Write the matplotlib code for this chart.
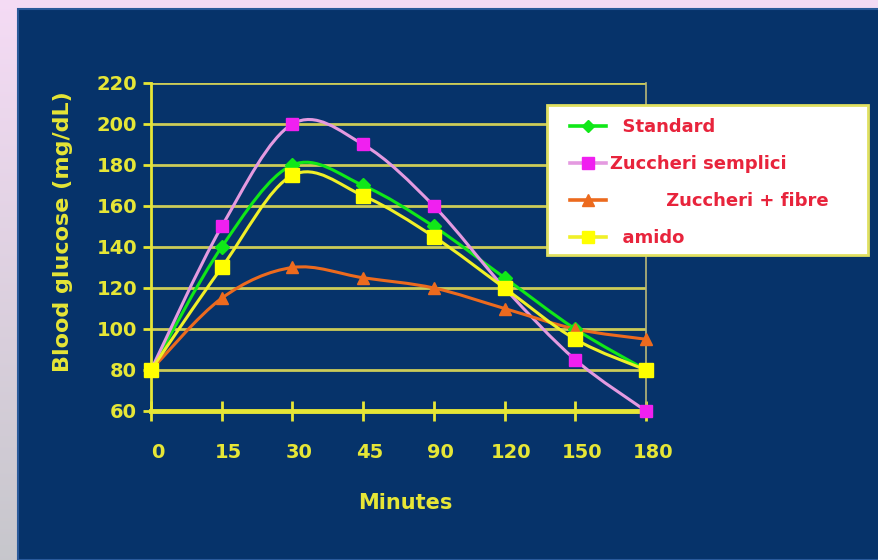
"""Blood glucose response curves (Excel-style chart on dark panel)."""

import matplotlib

matplotlib.use("Agg")

import matplotlib.pyplot as plt
import numpy as np
from matplotlib.lines import Line2D
from matplotlib.patches import PathPatch, Rectangle
from matplotlib.path import Path
from matplotlib.transforms import ScaledTranslation

MINUTES = ["0", "15", "30", "45", "90", "120", "150", "180"]
STANDARD = [80, 140, 180, 170, 150, 125, 100, 80]
ZUCCHERI_SEMPLICI = [80, 150, 200, 190, 160, 120, 85, 60]
ZUCCHERI_FIBRE = [80, 115, 130, 125, 120, 110, 100, 95]
AMIDO = [80, 130, 175, 165, 145, 120, 95, 80]
Y_TICKS = [60, 80, 100, 120, 140, 160, 180, 200, 220]

PANEL = "#06336a"
AXIS_YELLOW = "#e6e636"
GRID_YELLOW = "#cccc58"
LEGEND_RED = "#e8243c"

SERIES = [
    ("Standard", STANDARD, "#10e818", "#10e818", "D", 7),
    ("Zuccheri semplici", ZUCCHERI_SEMPLICI, "#e49ae0", "#f020f0", "s", 9),
    ("Zuccheri + fibre", ZUCCHERI_FIBRE, "#ec6a1e", "#ec6a1e", "^", 9),
    ("amido", AMIDO, "#f0f028", "#ffff00", "s", 10),
]
LEGEND_LABELS = ["  Standard", "Zuccheri semplici", "         Zuccheri + fibre", "  amido"]


def smooth_path(x, y):
    # Catmull-Rom through the points, expressed as cubic Bezier segments
    x = np.asarray(x, dtype=float)
    y = np.asarray(y, dtype=float)
    px = np.concatenate([[x[0]], x, [x[-1]]])
    py = np.concatenate([[y[0]], y, [y[-1]]])
    verts = [(x[0], y[0])]
    codes = [Path.MOVETO]
    for i in range(1, len(px) - 2):
        c1 = (px[i] + (px[i + 1] - px[i - 1]) / 6, py[i] + (py[i + 1] - py[i - 1]) / 6)
        c2 = (px[i + 1] - (px[i + 2] - px[i]) / 6, py[i + 1] - (py[i + 2] - py[i]) / 6)
        verts += [c1, c2, (px[i + 1], py[i + 1])]
        codes += [Path.CURVE4] * 3
    return Path(verts, codes)


def main():
    plt.rcParams["font.family"] = ["DejaVu Sans"]
    plt.rcParams["font.weight"] = "bold"
    fig = plt.figure(figsize=(8.79, 5.60), dpi=100)
    fig.patch.set_facecolor("#ece6ee")

    # gradient border (pink on the left/top) and the dark panel
    bg = fig.add_axes([0, 0, 1, 1], zorder=-5)
    bg.axis("off")
    grad = np.linspace(0, 1, 256)
    img = np.ones((256, 1, 3))
    img[:, 0, 0] = 0.96 - 0.18 * grad
    img[:, 0, 1] = 0.86 - 0.08 * grad
    img[:, 0, 2] = 0.96 - 0.16 * grad
    bg.imshow(img, extent=[0, 1, 0, 1], aspect="auto")
    bg.set_xlim(0, 1)
    bg.set_ylim(0, 1)
    bg.add_patch(Rectangle((18 / 879, 0), 1, (560 - 9) / 560, facecolor=PANEL,
                           edgecolor="#2a5a9a", linewidth=1.5))

    ax = fig.add_axes([151 / 879, 1 - 411 / 560, 495 / 879, 328 / 560])
    ax.set_facecolor("none")
    x = np.arange(len(MINUTES))

    for name, values, line_color, marker_color, marker, size in SERIES:
        ax.add_patch(PathPatch(smooth_path(x, values), facecolor="none",
                               edgecolor=line_color, linewidth=2.2, zorder=3))
        ax.plot(x, values, linestyle="none", marker=marker, markersize=size,
                markerfacecolor=marker_color, markeredgecolor=marker_color,
                zorder=4, clip_on=False)

    ax.set_xlim(0, len(MINUTES) - 1)
    ax.set_ylim(60, 220)
    ax.set_xticks(x)
    ax.set_xticklabels(MINUTES)
    ax.set_yticks(Y_TICKS)
    ax.grid(axis="y", color=GRID_YELLOW, linewidth=2)
    ax.set_axisbelow(True)

    ax.spines["top"].set_visible(False)
    ax.spines["right"].set_color("#b8b878")
    ax.spines["right"].set_linewidth(1.2)
    ax.spines["left"].set_color(AXIS_YELLOW)
    ax.spines["left"].set_linewidth(2)
    ax.spines["bottom"].set_color(AXIS_YELLOW)
    ax.spines["bottom"].set_linewidth(3.5)

    ax.tick_params(axis="x", direction="inout", length=14, width=2, color=AXIS_YELLOW,
                   labelcolor=AXIS_YELLOW, labelsize=14, pad=16)
    ax.tick_params(axis="y", direction="out", length=6, width=2, color=AXIS_YELLOW,
                   labelcolor=AXIS_YELLOW, labelsize=14, pad=4)
    shift = ScaledTranslation(7 / 100, 0, fig.dpi_scale_trans)
    for label in ax.get_xticklabels():
        label.set_transform(label.get_transform() + shift)

    ax.set_xlabel("Minutes", color=AXIS_YELLOW, fontsize=15, fontweight="bold")
    ax.xaxis.label.set_va("center")
    ax.xaxis.set_label_coords(0.513, -0.28)
    ax.set_ylabel("Blood glucose (mg/dL)", color=AXIS_YELLOW, fontsize=16, fontweight="bold")
    ax.yaxis.label.set_va("center")
    ax.yaxis.set_label_coords(-0.178, 0.546)

    # legend: white box drawn separately, entries placed inside it
    fig.add_artist(Rectangle((547 / 879, 1 - 255 / 560), 321 / 879, 150 / 560,
                             transform=fig.transFigure, facecolor="white",
                             edgecolor="#e0e060", linewidth=2, zorder=5))
    handles = [
        Line2D([], [], color=line_color, marker=marker, markersize=size - 1,
               markerfacecolor=marker_color, markeredgecolor=marker_color, linewidth=2.6)
        for _, _, line_color, marker_color, marker, size in SERIES
    ]
    legend = fig.legend(handles, LEGEND_LABELS, loc="upper left",
                        bbox_to_anchor=(570 / 879, 1 - 118 / 560), frameon=False,
                        handlelength=2.0, handletextpad=0.2, borderpad=0,
                        borderaxespad=0, labelspacing=1.05,
                        prop={"weight": "bold", "size": 13})
    legend.set_zorder(6)
    for text in legend.get_texts():
        text.set_color(LEGEND_RED)

    fig.savefig("out.png", dpi=100, facecolor=fig.get_facecolor())
    plt.close(fig)


if __name__ == "__main__":
    main()
